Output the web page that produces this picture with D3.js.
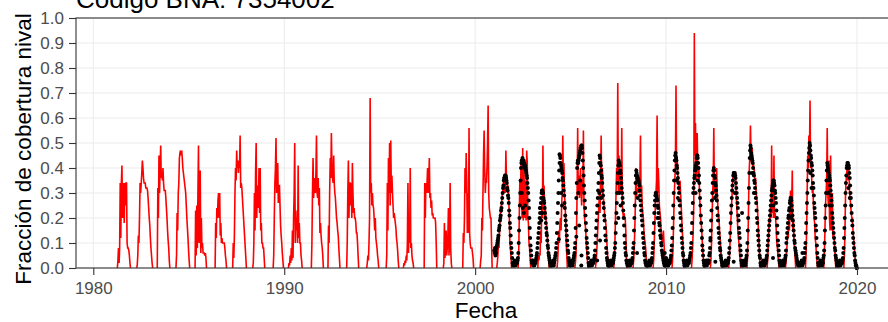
<!DOCTYPE html>
<html><head><meta charset="utf-8">
<script src="https://cdn.jsdelivr.net/npm/d3@7"></script>
<style>body{margin:0;background:#fff}svg{display:block;font-family:"Liberation Sans",Arial,Helvetica,sans-serif}</style>
</head><body><svg id="c" width="888" height="322"></svg>
<script>
const titleText = "Código BNA: 7354002";
const xTitle = "Fecha";
const yTitle = "Fracción de cobertura nival";
const xTickValues = [1980, 1990, 2000, 2010, 2020];
const yTickValues = [0, 0.1, 0.2, 0.3, 0.4, 0.5, 0.6, 0.7, 0.8, 0.9, 1.0];

// red series: one season per entry, start (decimal year) + values every redStep years
const redStep = 0.03;
const redStarts = [1981.26, 1982.27, 1983.35, 1984.33, 1985.33, 1986.38, 1987.30, 1988.35, 1989.42, 1990.22,
  1991.42, 1992.29, 1993.27, 1994.32, 1995.34, 1996.24, 1997.33, 1998.33, 1999.35, 2000.26,
  2001.13, 2002.25, 2003.28, 2004.29, 2005.22, 2006.30, 2007.26, 2008.27, 2009.32, 2010.31,
  2011.33, 2012.32, 2013.28, 2014.24, 2015.29, 2016.25, 2017.30, 2018.26, 2019.31];
const redSeasons = [
  [0,0.03,0.08,0.02,0.08,0.34,0.12,0.34,0.41,0.2,0.28,0.34,0.18,0.34,0.25,0.34,0.34,0.1,0.08,0.08,0.07,0.05,0.02,0],
  [0,0.01,0.05,0.13,0.1,0.2,0.34,0.3,0.34,0.38,0.43,0.4,0.36,0.34,0.34,0.34,0.32,0.32,0.32,0.31,0.28,0.24,0.2,0.17,0.12,0.08,0.05,0.02,0],
  [0,0.32,0.2,0.45,0.3,0.4,0.49,0.36,0.38,0.35,0.4,0.34,0.31,0.31,0.31,0.28,0.24,0.2,0.15,0.11,0.08,0.03,0],
  [0,0.05,0.22,0.15,0.3,0.34,0.44,0.46,0.47,0.45,0.47,0.44,0.4,0.38,0.36,0.34,0.32,0.3,0.25,0.2,0.16,0.12,0.07,0.03,0],
  [0,0.23,0.05,0.25,0.08,0.3,0.49,0.1,0.22,0.39,0.06,0.2,0.08,0.1,0.06,0.06,0.06,0.05,0.06,0.04,0],
  [0,0.18,0.12,0.24,0.2,0.27,0.3,0.2,0.3,0.13,0.18,0.1,0.12,0.1,0.1,0.1,0.1,0.08,0.05,0.03,0],
  [0,0.1,0.04,0.13,0.3,0.4,0.35,0.47,0.4,0.43,0.38,0.43,0.4,0.53,0.32,0.34,0.32,0.28,0.24,0.2,0.16,0.12,0.08,0.04,0],
  [0,0.02,0.1,0.3,0.15,0.38,0.5,0.2,0.33,0.24,0.28,0.4,0.22,0.4,0.15,0.18,0.1,0.1,0.08,0.08,0.04,0],
  [0,0.05,0.2,0.34,0.4,0.52,0.3,0.35,0.42,0.26,0.33,0.33,0.25,0.17,0.13,0.1,0.06,0.03,0],
  [0,0.02,0.01,0.05,0.02,0.08,0.03,0.15,0.04,0.2,0.3,0.5,0.1,0.23,0.15,0.2,0.1,0.41,0.12,0.18,0.1,0.1,0.05,0.03,0],
  [0,0.1,0.3,0.44,0.28,0.34,0.36,0.3,0.38,0.53,0.3,0.28,0.36,0.25,0.32,0.14,0.18,0.13,0.1,0.08,0.05,0],
  [0,0.17,0.1,0.3,0.44,0.36,0.54,0.4,0.36,0.34,0.45,0.34,0.3,0.28,0.24,0.2,0.18,0.15,0.13,0.08,0.04,0],
  [0,0.1,0.3,0.43,0.2,0.34,0.34,0.25,0.34,0.2,0.42,0.3,0.22,0.24,0.2,0.2,0.18,0.14,0.14,0.1,0.05,0],
  [0,0.02,0.05,0.03,0.1,0.2,0.68,0.3,0.34,0.25,0.3,0.25,0.24,0.2,0.15,0.2,0.12,0.1,0.08,0.05,0.03,0],
  [0,0.05,0.34,0.15,0.44,0.3,0.5,0.25,0.51,0.3,0.37,0.3,0.25,0.2,0.22,0.2,0.18,0.16,0.12,0.1,0.07,0.03,0],
  [0,0.02,0.01,0.03,0.02,0.05,0.03,0.1,0.34,0.06,0.2,0.1,0.4,0.08,0.1,0.05,0.03,0.02,0],
  [0,0.34,0.2,0.34,0.3,0.34,0.4,0.3,0.34,0.44,0.28,0.3,0.24,0.27,0.21,0.22,0.2,0.2,0.2,0.2,0.18,0.1,0],
  [0,0.02,0.18,0.04,0.1,0.15,0.05,0.08,0.12,0.24,0.05,0.1,0.34,0.08,0.02,0],
  [0,0.14,0.1,0.2,0.4,0.3,0.46,0.35,0.14,0.3,0.14,0.56,0.14,0.1,0.08,0.08,0.08,0.06,0.04,0],
  [0,0.03,0.05,0.2,0.15,0.3,0.45,0.55,0.4,0.3,0.35,0.34,0.4,0.5,0.65,0.3,0.24,0.22,0.2,0.2,0.1,0],
  [0,0.02,0.05,0.1,0.08,0.15,0.2,0.25,0.22,0.28,0.3,0.32,0.35,0.3,0.37,0.3,0.47,0.35,0.37,0.3,0.33,0.28,0.2,0.1,0.08,0.04,0],
  [0,0.05,0.2,0.35,0.25,0.42,0.3,0.2,0.48,0.19,0.42,0.3,0.2,0.35,0.19,0.47,0.42,0.2,0.18,0.1,0.08,0.04,0],
  [0,0.05,0.03,0.06,0.05,0.15,0.1,0.28,0.2,0.49,0.25,0.33,0.2,0.25,0.2,0.18,0.15,0.12,0.06,0.03,0],
  [0,0.03,0.08,0.15,0.1,0.18,0.2,0.15,0.25,0.3,0.53,0.35,0.42,0.3,0.25,0.2,0.1,0.05,0],
  [0,0.02,0.05,0.15,0.3,0.56,0.3,0.37,0.28,0.34,0.4,0.3,0.25,0.35,0.3,0.55,0.25,0.2,0.18,0.15,0.1,0.06,0.03,0],
  [0,0.02,0.05,0.1,0.15,0.2,0.25,0.3,0.22,0.35,0.53,0.3,0.4,0.3,0.28,0.25,0.22,0.2,0.18,0.15,0.1,0.06,0.03,0],
  [0,0.03,0.1,0.2,0.3,0.4,0.35,0.74,0.3,0.45,0.4,0.3,0.35,0.3,0.56,0.25,0.22,0.2,0.22,0.2,0.2,0.15,0.05,0],
  [0,0.03,0.08,0.15,0.25,0.4,0.28,0.3,0.32,0.3,0.34,0.3,0.36,0.53,0.3,0.33,0.25,0.22,0.2,0.15,0.12,0.1,0.08,0.04,0],
  [0,0.03,0.1,0.18,0.25,0.3,0.35,0.61,0.3,0.4,0.34,0.25,0.22,0.2,0.15,0.12,0.1,0.12,0.15,0.1,0.06,0.02,0],
  [0,0.03,0.1,0.2,0.3,0.35,0.42,0.73,0.4,0.45,0.38,0.35,0.32,0.3,0.35,0.3,0.25,0.2,0.15,0.1,0.04,0],
  [0,0.03,0.08,0.15,0.25,0.94,0.45,0.58,0.35,0.45,0.54,0.4,0.35,0.4,0.3,0.25,0.2,0.18,0.15,0.1,0.06,0.03,0],
  [0,0.03,0.1,0.2,0.3,0.35,0.56,0.3,0.3,0.35,0.28,0.4,0.3,0.25,0.22,0.2,0.15,0.12,0.08,0.04,0],
  [0,0.03,0.08,0.15,0.2,0.25,0.3,0.35,0.38,0.38,0.37,0.36,0.38,0.3,0.25,0.2,0.15,0.12,0.1,0.06,0.03,0],
  [0,0.05,0.15,0.3,0.4,0.45,0.57,0.45,0.42,0.48,0.4,0.42,0.4,0.38,0.35,0.36,0.3,0.28,0.25,0.2,0.15,0.1,0.05,0],
  [0,0.03,0.08,0.15,0.2,0.18,0.25,0.2,0.49,0.22,0.35,0.2,0.45,0.2,0.22,0.2,0.15,0.1,0.08,0.05,0.02,0],
  [0,0.02,0.05,0.1,0.15,0.12,0.2,0.15,0.22,0.31,0.2,0.25,0.39,0.15,0.2,0.1,0.08,0.04,0],
  [0,0.05,0.15,0.3,0.45,0.4,0.53,0.45,0.67,0.4,0.45,0.35,0.3,0.32,0.25,0.2,0.18,0.12,0.1,0.06,0.03,0],
  [0,0.05,0.15,0.25,0.3,0.35,0.56,0.3,0.25,0.43,0.2,0.15,0.45,0.15,0.2,0.3,0.12,0.15,0.12,0.08,0.04,0],
  [0,0.05,0.15,0.3,0.35,0.38,0.41,0.35,0.38,0.4,0.3,0.28,0.25,0.22,0.2,0.2,0.15,0.12,0.1,0.06,0.03,0]
];

// black points: one year per entry, values every blackStep years from Jan 1
const blackStep = 0.02;
const blackYears = [2001,2002,2003,2004,2005,2006,2007,2008,2009,2010,2011,2012,2013,2014,2015,2016,2017,2018,2019];
const blackValues = [
  [0.07,0.06,0.08,0.05,0.07,0.06,0.08,0.09,0.1,0.11,0.12,0.13,0.15,0.16,0.17,0.19,0.2,0.21,0.23,0.24,0.26,0.28,0.3,0.32,0.33,0.35,0.36,0.36,0.37,0.36,0.37,0.36,0.35,0.34,0.32,0.31,0.29,0.28,0.26,0.23,0.21,0.18,0.16,0.13,0.1,0.08,0.06,0.04,0.02,0.01],
  [0.02,0.01,0.02,0.03,0.01,0.02,0.01,0.02,0.03,0.02,0.02,0.03,0.04,0.06,0.1,0.15,0.2,0.25,0.3,0.35,0.4,0.42,0.43,0.42,0.44,0.43,0.42,0.43,0.41,0.42,0.4,0.41,0.4,0.39,0.38,0.37,0.36,0.34,0.32,0.3,0.27,0.24,0.2,0.16,0.12,0.09,0.07,0.05,0.03,0.02],
  [0.02,0.03,0.01,0.02,0.02,0.01,0.03,0.02,0.02,0.03,0.04,0.05,0.06,0.08,0.1,0.12,0.14,0.16,0.18,0.2,0.22,0.24,0.26,0.28,0.3,0.31,0.31,0.3,0.3,0.28,0.27,0.26,0.24,0.22,0.2,0.18,0.16,0.14,0.13,0.11,0.09,0.08,0.06,0.05,0.04,0.03,0.02,0.01,0.01,0.01],
  [0.01,0.02,0.01,0.02,0.03,0.02,0.01,0.02,0.03,0.04,0.05,0.06,0.08,0.1,0.14,0.18,0.22,0.26,0.3,0.35,0.39,0.42,0.45,0.44,0.42,0.41,0.4,0.39,0.38,0.36,0.35,0.33,0.31,0.29,0.26,0.24,0.21,0.19,0.17,0.15,0.13,0.11,0.09,0.07,0.06,0.04,0.03,0.02,0.01,0.01],
  [0.02,0.01,0.02,0.03,0.02,0.01,0.02,0.03,0.04,0.05,0.06,0.08,0.1,0.16,0.22,0.28,0.34,0.4,0.42,0.43,0.42,0.43,0.44,0.45,0.46,0.47,0.48,0.48,0.49,0.49,0.48,0.46,0.43,0.4,0.37,0.33,0.3,0.27,0.24,0.21,0.18,0.15,0.12,0.1,0.08,0.06,0.04,0.02,0.01,0.01],
  [0.01,0.02,0.01,0.02,0.03,0.02,0.01,0.02,0.02,0.03,0.02,0.03,0.04,0.05,0.07,0.1,0.13,0.16,0.19,0.22,0.25,0.28,0.31,0.34,0.38,0.42,0.45,0.44,0.42,0.41,0.39,0.37,0.36,0.34,0.31,0.29,0.26,0.24,0.21,0.19,0.16,0.13,0.11,0.08,0.06,0.04,0.03,0.02,0.01,0.01],
  [0.02,0.01,0.02,0.01,0.02,0.03,0.02,0.01,0.02,0.03,0.02,0.02,0.03,0.04,0.05,0.06,0.08,0.1,0.14,0.18,0.22,0.26,0.3,0.34,0.38,0.41,0.43,0.42,0.42,0.41,0.39,0.38,0.36,0.34,0.32,0.3,0.28,0.26,0.23,0.2,0.17,0.13,0.1,0.08,0.06,0.05,0.03,0.02,0.02,0.01],
  [0.01,0.02,0.02,0.01,0.03,0.02,0.01,0.02,0.03,0.02,0.02,0.03,0.04,0.06,0.08,0.1,0.15,0.2,0.25,0.3,0.34,0.37,0.39,0.38,0.37,0.36,0.36,0.35,0.35,0.34,0.33,0.31,0.29,0.27,0.25,0.23,0.21,0.19,0.17,0.14,0.12,0.1,0.08,0.06,0.05,0.03,0.02,0.02,0.01,0.01],
  [0.01,0.02,0.01,0.02,0.01,0.02,0.03,0.02,0.01,0.02,0.03,0.02,0.03,0.04,0.06,0.08,0.1,0.14,0.18,0.22,0.25,0.27,0.29,0.3,0.3,0.29,0.28,0.27,0.25,0.24,0.22,0.2,0.18,0.17,0.15,0.13,0.12,0.1,0.09,0.07,0.06,0.05,0.04,0.03,0.02,0.02,0.01,0.01,0.02,0.03],
  [0.04,0.03,0.02,0.02,0.01,0.02,0.01,0.02,0.03,0.02,0.02,0.03,0.04,0.05,0.07,0.09,0.12,0.16,0.2,0.25,0.3,0.35,0.39,0.43,0.45,0.46,0.44,0.43,0.41,0.4,0.38,0.36,0.34,0.32,0.3,0.27,0.25,0.22,0.2,0.17,0.15,0.12,0.1,0.08,0.06,0.05,0.03,0.02,0.01,0.01],
  [0.01,0.02,0.01,0.02,0.03,0.02,0.01,0.02,0.02,0.03,0.02,0.03,0.04,0.05,0.06,0.08,0.1,0.14,0.18,0.22,0.26,0.3,0.32,0.34,0.36,0.37,0.39,0.4,0.41,0.42,0.44,0.45,0.45,0.44,0.42,0.4,0.37,0.34,0.31,0.28,0.25,0.21,0.18,0.15,0.12,0.09,0.07,0.05,0.03,0.02],
  [0.01,0.01,0.02,0.01,0.02,0.03,0.02,0.01,0.02,0.03,0.02,0.02,0.03,0.05,0.06,0.08,0.11,0.15,0.19,0.23,0.27,0.3,0.34,0.37,0.39,0.4,0.39,0.37,0.36,0.34,0.33,0.31,0.29,0.27,0.24,0.21,0.19,0.16,0.14,0.12,0.1,0.08,0.07,0.05,0.04,0.03,0.02,0.01,0.01,0.01],
  [0.01,0.02,0.01,0.02,0.01,0.02,0.03,0.02,0.01,0.02,0.02,0.03,0.02,0.03,0.04,0.06,0.08,0.11,0.14,0.18,0.22,0.25,0.28,0.31,0.33,0.35,0.37,0.38,0.38,0.37,0.38,0.37,0.36,0.34,0.32,0.3,0.28,0.26,0.24,0.21,0.19,0.16,0.14,0.12,0.09,0.07,0.05,0.03,0.02,0.01],
  [0.01,0.02,0.02,0.01,0.02,0.03,0.02,0.01,0.02,0.03,0.04,0.05,0.07,0.1,0.15,0.2,0.26,0.32,0.38,0.44,0.47,0.49,0.48,0.46,0.45,0.44,0.43,0.42,0.4,0.38,0.37,0.35,0.34,0.32,0.3,0.28,0.26,0.23,0.2,0.18,0.15,0.13,0.11,0.09,0.07,0.05,0.04,0.02,0.01,0.01],
  [0.01,0.02,0.01,0.02,0.03,0.02,0.01,0.02,0.01,0.02,0.03,0.02,0.03,0.04,0.05,0.07,0.09,0.11,0.13,0.15,0.17,0.19,0.21,0.23,0.25,0.27,0.29,0.31,0.32,0.33,0.34,0.35,0.35,0.34,0.33,0.31,0.3,0.28,0.26,0.23,0.2,0.17,0.14,0.11,0.09,0.07,0.05,0.03,0.02,0.01],
  [0.01,0.02,0.01,0.02,0.01,0.02,0.03,0.02,0.01,0.02,0.02,0.03,0.04,0.05,0.07,0.1,0.12,0.14,0.16,0.18,0.2,0.21,0.23,0.24,0.26,0.27,0.28,0.28,0.27,0.25,0.23,0.21,0.19,0.17,0.15,0.13,0.11,0.1,0.08,0.07,0.06,0.05,0.04,0.03,0.02,0.02,0.01,0.01,0.01,0.02],
  [0.02,0.01,0.02,0.01,0.02,0.03,0.02,0.01,0.02,0.03,0.02,0.03,0.04,0.06,0.08,0.1,0.14,0.18,0.22,0.26,0.3,0.35,0.39,0.43,0.46,0.48,0.5,0.49,0.47,0.45,0.44,0.42,0.41,0.39,0.37,0.34,0.32,0.29,0.26,0.24,0.22,0.2,0.17,0.15,0.12,0.09,0.06,0.04,0.02,0.01],
  [0.01,0.02,0.01,0.02,0.03,0.02,0.01,0.02,0.01,0.02,0.03,0.02,0.04,0.05,0.07,0.1,0.15,0.2,0.25,0.3,0.35,0.39,0.42,0.41,0.4,0.39,0.38,0.37,0.36,0.35,0.33,0.31,0.29,0.27,0.25,0.22,0.2,0.18,0.16,0.14,0.12,0.1,0.08,0.07,0.05,0.04,0.03,0.02,0.01,0.01],
  [0.01,0.02,0.01,0.02,0.01,0.03,0.02,0.01,0.02,0.03,0.02,0.02,0.03,0.04,0.06,0.08,0.12,0.16,0.2,0.25,0.3,0.34,0.37,0.4,0.41,0.42,0.42,0.41,0.41,0.4,0.38,0.36,0.33,0.3,0.28,0.25,0.22,0.19,0.17,0.14,0.12,0.1,0.08,0.06,0.05,0.03,0.02,0.01,0.01,0]
];
// scattered black points off the main humps
const extraDates = [2002.50,2002.55,2003.39,2003.46,2004.38,2004.42,2005.30,2005.45,2005.56,2005.57,2006.39,2006.54,2007.50,2008.48,2009.93,2012.32,2012.58,2013.54,2013.98,2015.60,2017.14,2020.00,
  2002.45,2002.62,2003.52,2004.50,2004.55,2005.40,2005.50,2006.50,2006.60,2007.55,2007.62,2008.52,2009.55,2010.55,2010.62,2011.55,2011.65,2012.55,2013.60,2014.50,2014.60,2015.62,2016.55,2017.55,2017.62,2018.50,2018.58,2019.55,2019.62];
const extraValues = [0.24,0.22,0.24,0.19,0.115,0.455,0.125,0.17,0.01,0.05,0.03,0.11,0.2,0.06,0.06,0.12,0.025,0.025,0.22,0.04,0.06,0.0,
  0.3,0.25,0.22,0.3,0.25,0.3,0.35,0.3,0.28,0.3,0.25,0.28,0.2,0.35,0.28,0.3,0.35,0.28,0.3,0.38,0.3,0.25,0.2,0.38,0.32,0.3,0.25,0.32,0.28];

const svg = d3.select("#c");
const P = {left: 76, top: 18, bottom: 268, right: 900};
const x = d3.scaleLinear().domain([1980, 2020]).range([93.3, 857]);
const y = d3.scaleLinear().domain([0, 1]).range([P.bottom, P.top]);

svg.append("rect").attr("width", 888).attr("height", 322).attr("fill", "#fff");

// grid
const grid = svg.append("g").attr("stroke", "#ebebeb").attr("stroke-width", 1);
grid.selectAll("line.h").data(yTickValues).join("line").attr("class","h")
  .attr("x1", P.left).attr("x2", P.right).attr("y1", d => y(d)).attr("y2", d => y(d));
grid.selectAll("line.v").data(xTickValues).join("line").attr("class","v")
  .attr("y1", P.top).attr("y2", P.bottom).attr("x1", d => x(d)).attr("x2", d => x(d));

// red line
const line = d3.line().x(d => x(d[0])).y(d => y(d[1]));
const redData = redSeasons.map((vals, i) => vals.map((v, k) => [redStarts[i] + k * redStep, v]));
svg.append("g").selectAll("path").data(redData).join("path")
  .attr("d", line).attr("fill", "none").attr("stroke", "#ff0000").attr("stroke-width", 1.6);

// black points
const blackData = [];
blackValues.forEach((vals, i) => vals.forEach((v, k) => blackData.push([blackYears[i] + k * blackStep, v])));
extraDates.forEach((d, i) => blackData.push([d, extraValues[i]]));
svg.append("g").selectAll("circle").data(blackData).join("circle")
  .attr("cx", d => x(d[0])).attr("cy", d => y(d[1])).attr("r", 2.0).attr("fill", "#000");

// panel border
svg.append("rect").attr("x", P.left).attr("y", P.top).attr("width", P.right - P.left).attr("height", P.bottom - P.top)
  .attr("fill", "none").attr("stroke", "#333").attr("stroke-width", 1.1);

// axes
const ya = svg.append("g").attr("transform", `translate(${P.left},0)`)
  .call(d3.axisLeft(y).tickValues(yTickValues).tickFormat(d3.format(".1f")).tickSize(7).tickSizeOuter(0).tickPadding(5));
const xa = svg.append("g").attr("transform", `translate(0,${P.bottom})`)
  .call(d3.axisBottom(x).tickValues(xTickValues).tickFormat(d3.format("d")).tickSize(7).tickSizeOuter(0).tickPadding(7));
[ya, xa].forEach(a => {
  a.select(".domain").remove();
  a.selectAll(".tick line").attr("stroke", "#333").attr("stroke-width", 1.1);
  a.selectAll(".tick text").attr("fill", "#4d4d4d").style("font-size", "17px").style("font-family", '"Liberation Sans",Arial,sans-serif');
});

// titles
svg.append("text").attr("x", P.left).attr("y", 7.5).attr("fill", "#000")
  .style("font-size", "26px").text(titleText);
svg.append("text").attr("x", 486).attr("y", 318).attr("text-anchor", "middle").attr("fill", "#000")
  .style("font-size", "22.5px").text(xTitle);
svg.append("text").attr("transform", "translate(31,149) rotate(-90)").attr("text-anchor", "middle").attr("fill", "#000")
  .style("font-size", "22.5px").text(yTitle);
</script></body></html>
